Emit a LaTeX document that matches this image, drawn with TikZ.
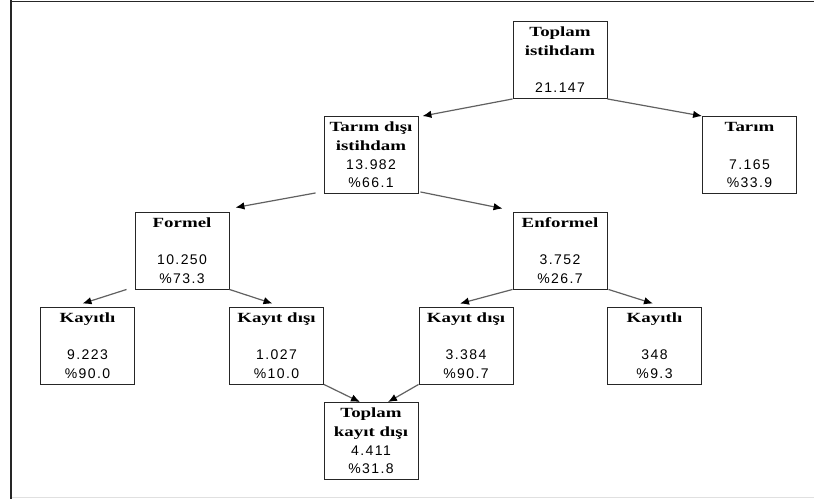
\documentclass[tikz,border=0pt]{standalone}
\usepackage{fontspec}
\usetikzlibrary{arrows.meta,calc}
\newfontfamily\tfont[FakeStretch=1.35]{Liberation Serif}
\newfontfamily\nfont[LetterSpace=10]{Liberation Sans}
\newcommand\mystr{\rule[-1.6pt]{0pt}{12.6pt}}
\newcommand\bx[4]{\mystr{\tfont\bfseries #1}\\\mystr{\tfont\bfseries #2}\\\mystr{\nfont #3}\\\mystr{\nfont #4}}
\begin{document}
\begin{tikzpicture}[x=1pt,y=-1pt,
  boxnode/.style={draw=black!85,line width=0.9pt,fill=white,inner sep=0pt,
    minimum width=94pt,minimum height=77pt,align=center,
    font=\fontsize{14}{18.8}\selectfont},
  conn/.style={draw=black!62,line width=1.2pt,-{Latex[length=9pt,width=7.5pt,color=black]}}]
\useasboundingbox (0,0) rectangle (814,499);
\fill[white] (0,0) rectangle (814,499);
% frame
\draw[black!85,line width=1.8pt] (11,0) -- (11,499);
\draw[black!85,line width=1.8pt] (10.1,1.5) -- (814,1.5);
\draw[black!12,line width=1pt] (12,497.5) -- (814,497.5);
% boxes
\node[boxnode] (T)   at (560,60)    {\bx{Toplam}{istihdam}{}{21.147}};
\node[boxnode] (TD)  at (371,155)   {\bx{Tarım dışı}{istihdam}{13.982}{\%66.1}};
\node[boxnode] (TA)  at (749.5,155) {\bx{Tarım}{}{7.165}{\%33.9}};
\node[boxnode] (F)   at (182,250.5) {\bx{Formel}{}{10.250}{\%73.3}};
\node[boxnode] (E)   at (560,250.5) {\bx{Enformel}{}{3.752}{\%26.7}};
\node[boxnode] (K1)  at (87.5,345.5)  {\bx{Kayıtlı}{}{9.223}{\%90.0}};
\node[boxnode] (KD1) at (276.5,345.5) {\bx{Kayıt dışı}{}{1.027}{\%10.0}};
\node[boxnode] (KD2) at (466,345.5)   {\bx{Kayıt dışı}{}{3.384}{\%90.7}};
\node[boxnode] (K2)  at (654.5,345.5) {\bx{Kayıtlı}{}{348}{\%9.3}};
\node[boxnode] (TK)  at (371,441)   {\bx{Toplam}{kayıt dışı}{4.411}{\%31.8}};
% connectors
\draw[conn] (T.south west) -- ($(TD.north east)+(4,0)$);
\draw[conn] (T.south east) -- (TA.north west);
\draw[conn] ($(TD.south west)+(-8,-1)$) -- ($(F.north east)+(6,-4)$);
\draw[conn] ($(TD.south east)+(2,-2)$) -- ($(E.north west)+(-10,-3)$);
\draw[conn] ($(F.south west)+(-8,0)$) -- ($(K1.north)+(-5,-3)$);
\draw[conn] (F.south east) -- ($(KD1.north)+(-4,-3)$);
\draw[conn] (E.south west) -- ($(KD2.north)+(-6,-3)$);
\draw[conn] ($(E.south east)+(1,0)$) -- ($(K2.north)+(-1.5,-3)$);
\draw[conn] (KD1.south east) -- ($(TK.north)+(-11,0)$);
\draw[conn] (KD2.south west) -- ($(TK.north)+(17,0)$);
\end{tikzpicture}
\end{document}
